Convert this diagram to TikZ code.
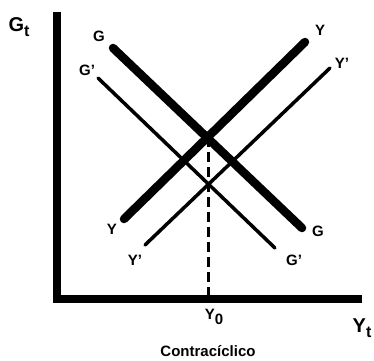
\documentclass[tikz,border=0pt]{standalone}
\usepackage{fontspec}
\setmainfont{Liberation Sans}
\begin{document}
\begin{tikzpicture}[x=1pt,y=-1pt,
  axisline/.style={line width=8pt,line join=miter},
  thickline/.style={line width=8.5pt,line cap=round},
  thinline/.style={line width=3.5pt,line cap=round},
  guide/.style={line width=3pt,dash pattern=on 10pt off 5pt},
  lab/.style={inner sep=0pt,font=\bfseries\fontsize{15}{15}\selectfont},
  axlab/.style={inner sep=0pt,font=\bfseries\fontsize{20}{20}\selectfont}]
\useasboundingbox (0,0) rectangle (374,360);
% coordinates
\coordinate (top) at (57,12);
\coordinate (orig) at (57,299);
\coordinate (right) at (362,299);
\coordinate (Ga) at (113,48);
\coordinate (Gb) at (302,228);
\coordinate (Gpa) at (98,78);
\coordinate (Gpb) at (275,248);
\coordinate (Ya) at (124,219);
\coordinate (Yb) at (305,42);
\coordinate (Ypa) at (145,245);
\coordinate (Ypb) at (330,68);
\coordinate (eq) at (208,137);
\coordinate (eqbase) at (208,296);
% axes
\draw[axisline] (top) -- (orig) -- (right);
% curves
\draw[thickline] (Ga) -- (Gb);
\draw[thinline] (Gpa) -- (Gpb);
\draw[thickline] (Ya) -- (Yb);
\draw[thinline] (Ypa) -- (Ypb);
\draw[guide] (eq) -- (eqbase);
% labels
\node[axlab] (gt) at (19,27) {G\raisebox{-5pt}{\fontsize{16}{16}\selectfont t}};
\node[axlab] (yt) at (362,328) {Y\raisebox{-5pt}{\fontsize{16}{16}\selectfont t}};
\node[lab] (y0) at (214,317) {Y\raisebox{-5pt}{0}};
\node[lab] (g1) at (99,36) {G};
\node[lab] (g2) at (87,70) {G'};
\node[lab] (y1) at (320,30) {Y};
\node[lab] (y2) at (342,63) {Y'};
\node[lab] (y3) at (112,229) {Y};
\node[lab] (y4) at (135,260) {Y'};
\node[lab] (g3) at (318,231) {G};
\node[lab] (g4) at (294,260) {G'};
\node[inner sep=0pt,font=\bfseries\fontsize{15}{15}\selectfont] (cap) at (208,351) {Contracíclico};
\end{tikzpicture}
\end{document}
